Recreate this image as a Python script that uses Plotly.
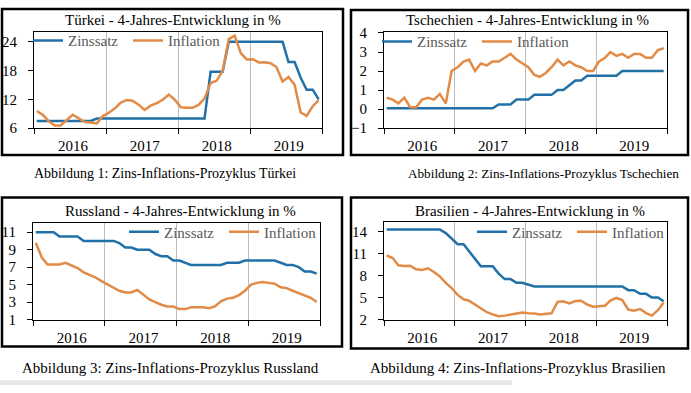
import plotly.graph_objects as go

W, H = 691, 393
FONT = "Times New Roman, Liberation Serif, serif"
BLUE = "#2171a8"
ORANGE = "#e28b47"

# ---------------- data ----------------
months = [f"{y}-{m:02d}-15" for y in range(2016, 2020) for m in range(1, 13)]
years = ["2016", "2017", "2018", "2019"]
year_mid = ["2016-07-01", "2017-07-01", "2018-07-01", "2019-07-01"]
year_bounds = ["2016-01-01", "2017-01-01", "2018-01-01", "2019-01-01", "2020-01-01"]

tr_zins = [7.5] * 10 + [8.0] * 19 + [17.75] * 3 + [24.0] * 10 + [19.75, 19.75, 16.5, 14.0, 14.0, 12.0]
tr_infl = [9.58, 8.78, 7.46, 6.57, 6.58, 7.64, 8.79, 8.05, 7.28, 7.16, 7.00, 8.53,
           9.22, 10.13, 11.29, 11.87, 11.72, 10.90, 9.79, 10.68, 11.20, 11.90, 12.98, 11.92,
           10.35, 10.26, 10.23, 10.85, 12.15, 15.39, 15.85, 17.90, 24.52, 25.24, 21.62, 20.30,
           20.35, 19.67, 19.71, 19.50, 18.71, 15.72, 16.65, 15.01, 9.26, 8.55, 10.56, 11.84]

cz_zins = [0.05] * 19 + [0.25] * 3 + [0.5] * 3 + [0.75] * 4 + [1.0] * 2 + [1.25] + [1.5] * 2 + [1.75] * 6 + [2.0] * 8
cz_infl = [0.6, 0.5, 0.3, 0.6, 0.1, 0.1, 0.5, 0.6, 0.5, 0.8, 0.3, 2.0,
           2.2, 2.5, 2.6, 2.0, 2.4, 2.3, 2.5, 2.5, 2.7, 2.9, 2.6, 2.4,
           2.2, 1.8, 1.7, 1.9, 2.2, 2.6, 2.3, 2.5, 2.3, 2.2, 2.0, 2.0,
           2.5, 2.7, 3.0, 2.8, 2.9, 2.7, 2.9, 2.9, 2.7, 2.7, 3.1, 3.2]

ru_zins = ([11.0] * 4 + [10.5] * 4 + [10.0] * 6 + [9.75] + [9.25] * 2 + [9.0] * 3 + [8.5] + [8.25] * 2
           + [7.75] * 2 + [7.5] + [7.25] * 6 + [7.5] * 3 + [7.75] * 6 + [7.5] + [7.25] * 2 + [7.0]
           + [6.5] * 2 + [6.25])
ru_infl = [9.8, 8.1, 7.3, 7.3, 7.3, 7.5, 7.2, 6.9, 6.4, 6.1, 5.8, 5.4,
           5.0, 4.6, 4.3, 4.1, 4.1, 4.4, 3.9, 3.3, 3.0, 2.7, 2.5, 2.5,
           2.2, 2.2, 2.4, 2.4, 2.4, 2.3, 2.5, 3.1, 3.4, 3.5, 3.8, 4.3,
           5.0, 5.2, 5.3, 5.2, 5.1, 4.7, 4.6, 4.3, 4.0, 3.8, 3.5, 3.0]

br_zins = ([14.25] * 10 + [13.75, 13.0, 12.25, 12.25, 11.25, 10.25] + [9.25] * 3 + [8.25] + [7.5] * 2
           + [7.0] * 2 + [6.75] + [6.5] * 16 + [6.0] * 2 + [5.5] * 2 + [5.0] * 2 + [4.5])
br_infl = [10.71, 10.36, 9.39, 9.28, 9.32, 8.84, 8.74, 8.97, 8.48, 7.87, 6.99, 6.29,
           5.35, 4.76, 4.57, 4.08, 3.60, 3.00, 2.71, 2.46, 2.54, 2.70, 2.80, 2.95,
           2.86, 2.84, 2.68, 2.76, 2.86, 4.39, 4.48, 4.19, 4.53, 4.56, 4.05, 3.75,
           3.78, 3.89, 4.58, 4.94, 4.66, 3.37, 3.22, 3.43, 2.89, 2.54, 3.27, 4.31]

titles = ["Türkei - 4-Jahres-Entwicklung in %", "Tschechien - 4-Jahres-Entwicklung in %",
          "Russland - 4-Jahres-Entwicklung in %", "Brasilien - 4-Jahres-Entwicklung in %"]
captions = ["Abbildung 1: Zins-Inflations-Prozyklus Türkei",
            "Abbildung 2: Zins-Inflations-Prozyklus Tschechien",
            "Abbildung 3: Zins-Inflations-Prozyklus Russland",
            "Abbildung 4: Zins-Inflations-Prozyklus Brasilien"]
series_names = ["Zinssatz", "Inflation"]
y_ticks = [[6, 12, 18, 24], [-1, 0, 1, 2, 3, 4], [1, 3, 5, 7, 9, 11], [2, 5, 8, 11, 14]]
y_ranges = [[6, 26], [-1, 4.05], [1, 12], [2, 15.2]]
zins_data = [tr_zins, cz_zins, ru_zins, br_zins]
infl_data = [tr_infl, cz_infl, ru_infl, br_infl]

# ---------------- layout geometry (pixels) ----------------
plot_px = [(34, 322, 26, 126), (384, 667, 26, 126), (33, 320, 225, 325), (384, 667, 224, 325)]
frame_px = [(2, 343, 2, 154), (351, 688, 3, 154), (2, 342, 198, 353), (351, 688, 198, 355)]
title_px = [(173, 13), (527, 13), (181, 212), (530, 212)]
legend_px = [(28, 35), (377, 36), (124, 234), (472, 234)]
caption_px = [(165, 173), (543, 173), (170, 375), (518, 375)]
caption_size = [14, 13.2, 15, 15]


def px(x):
    return x / W


def py(y):
    return 1 - y / H


fig = go.Figure()
layout = dict(width=W, height=H, margin=dict(l=0, r=0, t=0, b=0),
              paper_bgcolor="white", plot_bgcolor="white",
              font=dict(family=FONT, color="black"), showlegend=True)
shapes, annotations = [], []

for i in range(4):
    n = "" if i == 0 else str(i + 1)
    leg = "legend" if i == 0 else f"legend{i + 1}"
    for name, data, color in zip(series_names, [zins_data[i], infl_data[i]], [BLUE, ORANGE]):
        fig.add_trace(go.Scatter(x=months, y=data, mode="lines", name=name,
                                 line=dict(color=color, width=2.5),
                                 xaxis="x" + n, yaxis="y" + n, legend=leg))
    x0, x1, y0, y1 = plot_px[i]
    layout["xaxis" + n] = dict(
        domain=[px(x0), px(x1)], anchor="y" + n, type="date",
        range=[year_bounds[0], year_bounds[-1]],
        tickmode="array", tickvals=year_mid, ticktext=years, ticks="",
        showgrid=False, zeroline=False, showline=True, linecolor="black", linewidth=1, mirror=True,
        tickfont=dict(size=15, color="black", family=FONT), ticklabelstandoff=4, ticklabelshift=3,
        minor=dict(tickmode="array", tickvals=year_bounds, ticks="outside", ticklen=5,
                   tickcolor="black", showgrid=True, gridcolor="#bdbdbd", gridwidth=1),
        fixedrange=True)
    layout["yaxis" + n] = dict(
        domain=[py(y1), py(y0)], anchor="x" + n, range=y_ranges[i],
        tickmode="array", tickvals=y_ticks[i], ticks="outside", ticklen=5, tickcolor="black",
        showgrid=False, zeroline=False, showline=True, linecolor="black", linewidth=1, mirror=True,
        tickfont=dict(size=15, color="black", family=FONT), ticklabelstandoff=8,
        fixedrange=True)
    lx, ly = legend_px[i]
    layout[leg] = dict(orientation="h", x=px(lx), y=py(ly), xanchor="left", yanchor="middle",
                       bgcolor="rgba(0,0,0,0)", borderwidth=0,
                       font=dict(size=15, color="#595959", family=FONT),
                       entrywidth=55, entrywidthmode="pixels", itemwidth=30)
    fx0, fx1, fy0, fy1 = frame_px[i]
    shapes.append(dict(type="rect", xref="paper", yref="paper",
                       x0=px(fx0), x1=px(fx1), y0=py(fy1), y1=py(fy0),
                       line=dict(color="black", width=2.5), fillcolor="rgba(0,0,0,0)"))
    tx, ty = title_px[i]
    annotations.append(dict(text=titles[i], x=px(tx), y=py(ty), xref="paper", yref="paper",
                            showarrow=False, xanchor="center", yanchor="middle",
                            font=dict(size=15, color="black", family=FONT)))
    cx, cy = caption_px[i]
    annotations.append(dict(text=captions[i], x=px(cx), y=py(cy), xref="paper", yref="paper",
                            showarrow=False, xanchor="center", yanchor="middle",
                            font=dict(size=caption_size[i], color="black", family=FONT)))

shapes.append(dict(type="rect", xref="paper", yref="paper", x0=0, x1=px(512), y0=0, y1=py(388),
                   line=dict(width=0), fillcolor="#e6e6e6", layer="below"))

layout["shapes"] = shapes
layout["annotations"] = annotations
fig.update_layout(**layout)
fig.write_html("out.html", config={"displayModeBar": False},
               post_script="document.body.style.margin='0px';document.body.style.overflow='hidden';")
